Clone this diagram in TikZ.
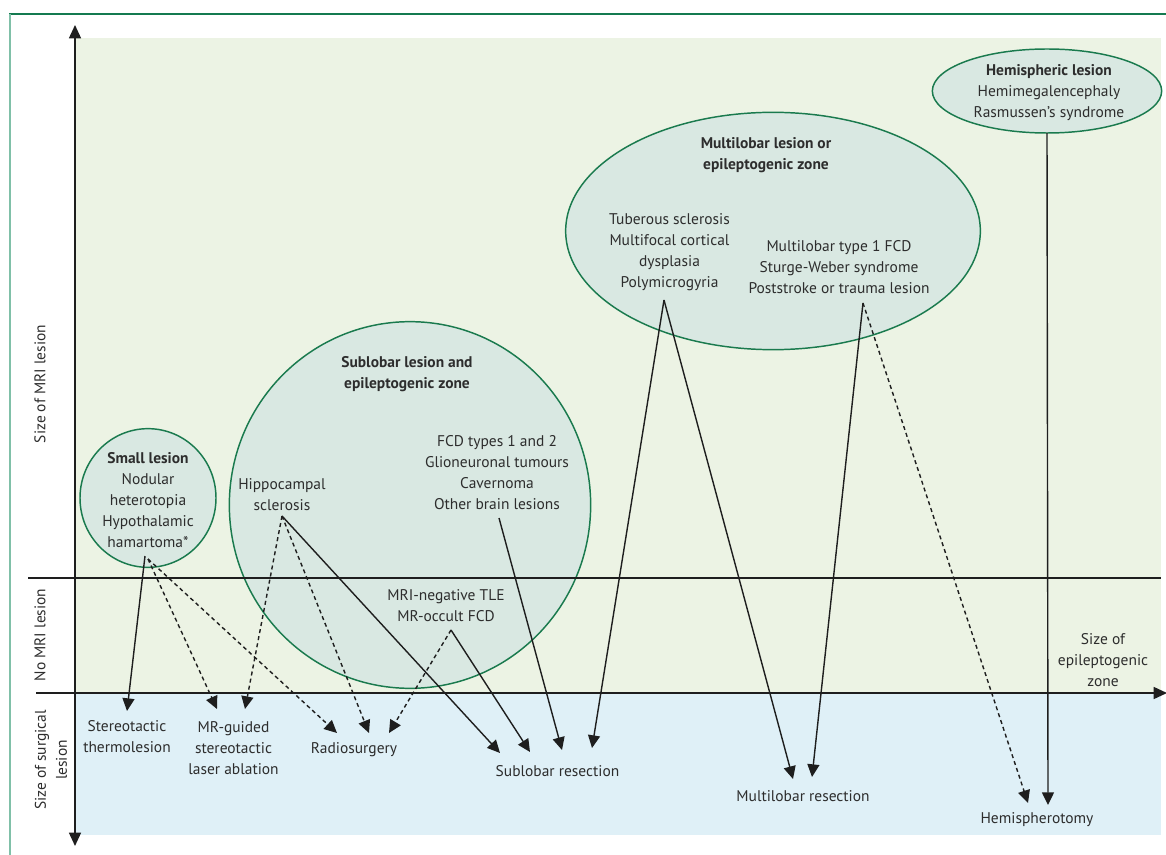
\documentclass[tikz,border=0pt]{standalone}
\usepackage{fontspec}
\setmainfont{PT Sans}
\usetikzlibrary{arrows.meta,shapes.geometric}
\definecolor{bggreen}{RGB}{236,243,228}
\definecolor{bgblue}{RGB}{223,240,247}
\definecolor{blobfill}{RGB}{217,232,226}
\definecolor{blobline}{RGB}{26,122,78}
\definecolor{frametop}{RGB}{20,122,80}
\definecolor{frameleft}{RGB}{128,192,168}
\definecolor{txt}{RGB}{45,45,45}
\definecolor{ink}{RGB}{30,30,30}
\tikzset{
  lbl/.style={font=\fontsize{11.6}{15.75}\selectfont, text=txt, align=center, inner sep=0pt, yshift=-1.5pt},
  ttl/.style={lbl, font=\fontsize{11.6}{15.75}\selectfont\bfseries},
  blob/.style={ellipse, draw=blobline, fill=blobfill, line width=1.1pt, inner sep=0pt},
  arr/.style={-{Triangle[length=9.5pt,width=9pt]}, line width=1.05pt, draw=ink},
  darr/.style={arr, dash pattern=on 3pt off 2.4pt},
  axis/.style={line width=1.1pt, draw=ink},
}
\begin{document}
\begin{tikzpicture}[x=0.75pt,y=-0.75pt]
\useasboundingbox (0,0) rectangle (1166,855);
% backgrounds
\fill[bggreen] (76,38) rectangle (1161,693);
\fill[bgblue] (76,693) rectangle (1161,835);
% frame
\draw[frametop, line width=1.4pt] (9,14) -- (1166,14);
\draw[frameleft, line width=1.6pt] (10,14) -- (10,855);
% blobs
\node[blob, minimum width=102pt, minimum height=104pt] (smallE) at (148,498) {};
\node[blob, minimum width=271pt, minimum height=275pt] (subE) at (410,505) {};
\node[blob, minimum width=311pt, minimum height=178pt] (multiE) at (773,231) {};
\node[blob, minimum width=172pt, minimum height=63pt] (hemiE) at (1047,91) {};
% axes
\coordinate (vtop) at (75,25);
\coordinate (vbot) at (75,846);
\coordinate (hl) at (36,693);
\coordinate (hr) at (1167,693);
\coordinate (ml) at (28,578);
\coordinate (mr) at (1161,578);
\draw[axis] (ml) -- (mr);
\draw[axis, {Triangle[length=10pt,width=9pt]}-{Triangle[length=10pt,width=9pt]}] (vtop) -- (vbot);
\draw[axis, -{Triangle[length=10pt,width=9pt]}] (hl) -- (hr);
% axis labels
\node[lbl, rotate=90, yshift=1.5pt] (ymri) at (42,382) {Size of MRI lesion};
\node[lbl, rotate=90, yshift=1.5pt] (ynomri) at (42,633) {No MRI lesion};
\node[lbl, rotate=90, yshift=1.5pt] (ysurg) at (53,758) {Size of surgical\\lesion};
\node[lbl] (xepi) at (1103,658) {Size of\\epileptogenic\\zone};
% texts in blobs
\node[lbl] (small) at (148,498) {\textbf{Small lesion}\\Nodular\\heterotopia\\Hypothalamic\\hamartoma*};
\node[ttl] (subT) at (407,372.5) {Sublobar lesion and\\epileptogenic zone};
\node[lbl] (hippo) at (282,493) {Hippocampal\\sclerosis};
\node[lbl] (fcd) at (497,470.5) {FCD types 1 and 2\\Glioneuronal tumours\\Cavernoma\\Other brain lesions};
\node[lbl] (mrineg) at (446,603.5) {MRI-negative TLE\\MR-occult FCD};
\node[ttl] (multiT) at (766,153.5) {Multilobar lesion or\\epileptogenic zone};
\node[lbl] (tub) at (669.5,250.5) {Tuberous sclerosis\\Multifocal cortical\\dysplasia\\Polymicrogyria};
\node[lbl] (mtype) at (839,265) {Multilobar type 1 FCD\\Sturge-Weber syndrome\\Poststroke or trauma lesion};
\node[lbl] (hemi) at (1049,90.5) {\textbf{Hemispheric lesion}\\Hemimegalencephaly\\Rasmussen’s syndrome};
% bottom labels
\node[lbl] (thermo) at (127,734.5) {Stereotactic\\thermolesion};
\node[lbl] (laser) at (233.5,746) {MR-guided\\stereotactic\\laser ablation};
\node[lbl] (radio) at (354,748) {Radiosurgery};
\node[lbl] (subres) at (557.5,769) {Sublobar resection};
\node[lbl] (multires) at (803,794) {Multilobar resection};
\node[lbl] (hemires) at (1037,818) {Hemispherotomy};
% connector end points
\coordinate (sA) at (145,556);
\coordinate (sB) at (148,559);
\coordinate (hS) at (282,516);
\coordinate (oS) at (451,630);
\coordinate (fS) at (499,518);
\coordinate (pS) at (664,300);
\coordinate (tS) at (863,303);
\coordinate (eS) at (1047,133);
\coordinate (tThermo) at (127,711);
\coordinate (tLaser1) at (217,709);
\coordinate (tLaser2) at (245,709);
\coordinate (tRadio1) at (337,733);
\coordinate (tRadio2) at (369,733);
\coordinate (tRadio3) at (389,733);
\coordinate (tSub1) at (500,753);
\coordinate (tSub2) at (530,752);
\coordinate (tSub3) at (562,750);
\coordinate (tSub4) at (592,748);
\coordinate (tMul1) at (793,779);
\coordinate (tMul2) at (812,777);
\coordinate (tHemi1) at (1028,803);
\coordinate (tHemi2) at (1048,805);
% solid arrows
\draw[arr] (sA) -- (tThermo);
\draw[arr] (hS) -- (tSub1);
\draw[arr] (oS) -- (tSub2);
\draw[arr] (fS) -- (tSub3);
\draw[arr] (pS) -- (tSub4);
\draw[arr] (pS) -- (tMul1);
\draw[arr] (tS) -- (tMul2);
\draw[arr] (eS) -- (tHemi2);
% dashed arrows
\draw[darr] (sB) -- (tLaser1);
\draw[darr] (sB) -- (tRadio1);
\draw[darr] (hS) -- (tLaser2);
\draw[darr] (hS) -- (tRadio2);
\draw[darr] (oS) -- (tRadio3);
\draw[darr] (tS) -- (tHemi1);
\end{tikzpicture}
\end{document}
